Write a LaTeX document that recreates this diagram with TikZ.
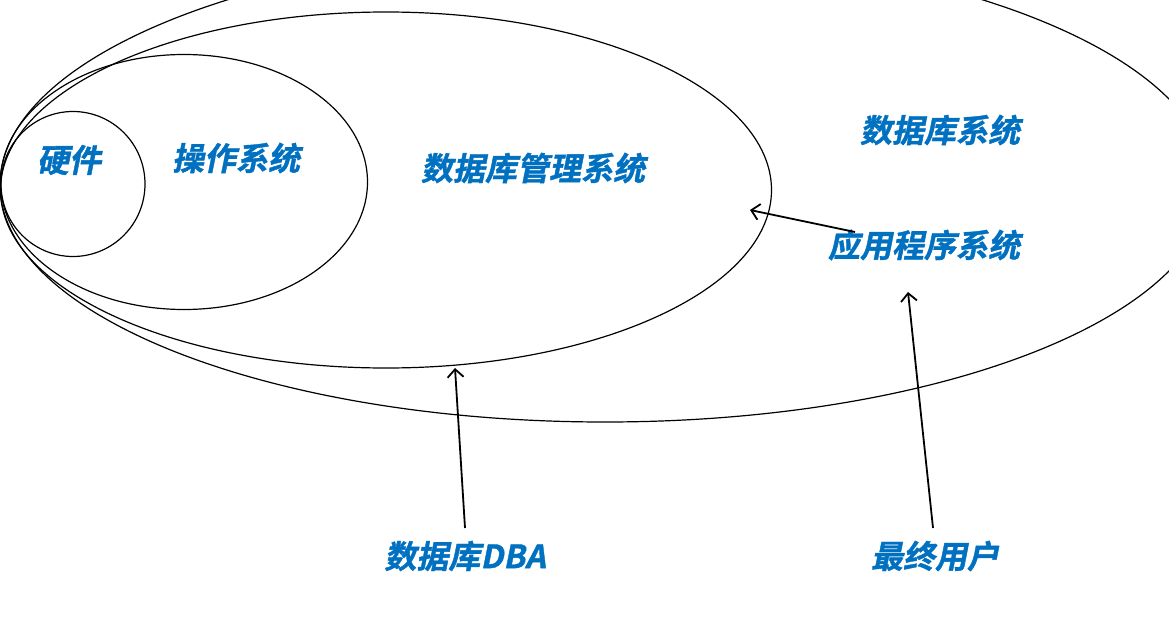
\documentclass[tikz,border=0pt]{standalone}
\usepackage{fontspec}
\usetikzlibrary{shapes.geometric,arrows.meta}
\newfontfamily\cjkbi[FakeSlant=0.2,FakeBold=1.2]{Noto Sans CJK SC Bold}
\definecolor{lblue}{HTML}{0070C0}
\begin{document}
\begin{tikzpicture}[x=1pt,y=-1pt,
  ring/.style={draw=black,line width=1.2pt,ellipse,inner sep=0pt},
  lbl/.style={text=lblue,font=\cjkbi\fontsize{32}{32}\selectfont,inner sep=1pt},
  arr/.style={draw=black,line width=1.8pt,-{Straight Barb[length=8pt,width=16pt]}}]
\path[use as bounding box] (0,0) rectangle (1169,626);
\node[ring,minimum width=1210pt,minimum height=474pt] (sys) at (605,185) {};
\node[ring,minimum width=771pt,minimum height=356pt] (dbms) at (386,190) {};
\node[ring,minimum width=367pt,minimum height=255pt] (os) at (184,182) {};
\node[ring,minimum width=144pt,minimum height=145pt] (hw) at (73,184) {};
\node[lbl] (thw) at (69,160) {硬件};
\node[lbl] (tos) at (236,158) {操作系统};
\node[lbl] (tdbms) at (533,168) {数据库管理系统};
\node[lbl] (tsys) at (940,130) {数据库系统};
\node[lbl] (tapp) at (924,245) {应用程序系统};
\node[lbl] (tdba) at (465,556) {数据库DBA};
\node[lbl] (tuser) at (935,556) {最终用户};
\coordinate (appstart) at (855,232);
\coordinate (append) at (750,210);
\coordinate (dbastart) at (465,528);
\coordinate (dbaend) at (455,368);
\coordinate (userstart) at (933,528);
\coordinate (userend) at (908,292);
\draw[arr] (appstart) -- (append);
\draw[arr] (dbastart) -- (dbaend);
\draw[arr] (userstart) -- (userend);
\end{tikzpicture}
\end{document}
